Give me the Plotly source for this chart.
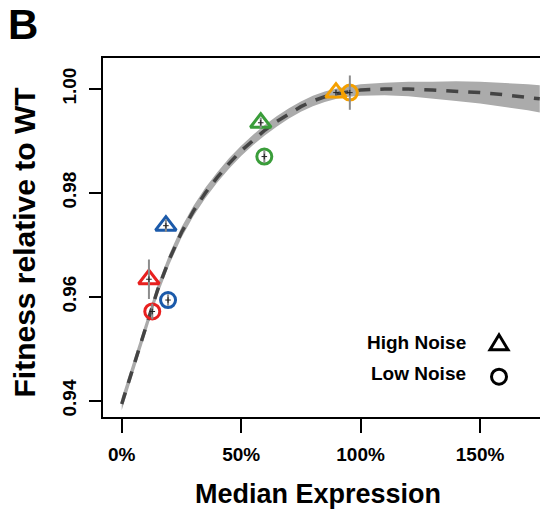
import plotly.graph_objects as go

# ---------------- data ----------------
curve_x = [0, 0.05, 0.1, 0.15, 0.2, 0.25, 0.3, 0.35, 0.4, 0.45, 0.5, 0.55, 0.6, 0.65,
           0.7, 0.75, 0.8, 0.85, 0.9, 0.95, 1.0, 1.1, 1.2, 1.3, 1.4, 1.5, 1.6, 1.7, 1.75]
curve_y = [0.9394, 0.9468, 0.9540, 0.9613, 0.9673, 0.9724, 0.9765, 0.9800, 0.9830, 0.9857,
           0.9881, 0.9902, 0.9921, 0.9938, 0.9953, 0.9966, 0.9977, 0.9985, 0.9991, 0.9995,
           0.9998, 1.0000, 1.0000, 0.9998, 0.9996, 0.9993, 0.9989, 0.9984, 0.9981]
band_half = [0.0012, 0.0011, 0.0011, 0.0010, 0.0010, 0.0010, 0.0010, 0.0010, 0.0010, 0.0010,
             0.0010, 0.0010, 0.0010, 0.0010, 0.0010, 0.0010, 0.0010, 0.0010, 0.0010, 0.0010,
             0.0011, 0.0012, 0.0014, 0.0016, 0.0019, 0.0021, 0.0023, 0.0025, 0.0026]

point_colors = ["#E8201F", "#1B5AAA", "#3A9D3A", "#F5A000"]
high_x = [0.114, 0.185, 0.582, 0.897]
high_y = [0.9634, 0.9737, 0.9935, 0.9993]
high_err = [0.0038, 0.0012, 0.0010, 0.0006]
low_x = [0.128, 0.194, 0.597, 0.955]
low_y = [0.9572, 0.9594, 0.9870, 0.9993]
low_err = [0.0015, 0.0011, 0.0012, 0.0033]

x_ticks = [0, 0.5, 1.0, 1.5]
x_ticklabels = ["0%", "50%", "100%", "150%"]
y_ticks = [0.94, 0.96, 0.98, 1.00]
y_ticklabels = ["0.94", "0.96", "0.98", "1.00"]

FONT = "Liberation Sans"

# ---------------- figure ----------------
fig = go.Figure()

band_upper = [y + h for y, h in zip(curve_y, band_half)]
band_lower = [y - h for y, h in zip(curve_y, band_half)]
fig.add_trace(go.Scatter(
    x=curve_x + curve_x[::-1], y=band_upper + band_lower[::-1],
    fill="toself", fillcolor="#ABABAB", line=dict(width=0), mode="lines",
    hoverinfo="skip"))
fig.add_trace(go.Scatter(
    x=curve_x, y=curve_y, mode="lines",
    line=dict(color="#444444", width=3.5, dash="12px,10px")))

fig.add_trace(go.Scatter(
    x=high_x, y=high_y, mode="markers",
    marker=dict(symbol="triangle-up-open", size=18, color=point_colors,
                line=dict(width=3, color=point_colors))))
fig.add_trace(go.Scatter(
    x=low_x, y=low_y, mode="markers",
    marker=dict(symbol="circle-open", size=15, color=point_colors,
                line=dict(width=3, color=point_colors))))

# error bars and small centre crosses
fig.add_trace(go.Scatter(
    x=high_x + low_x, y=high_y + low_y, mode="markers",
    marker=dict(symbol="cross-thin", size=4, color="#222222",
                line=dict(width=1, color="#222222")),
    error_y=dict(type="data", array=high_err + low_err, visible=True,
                 color="#8C8C8C", thickness=2, width=0)))

fig.update_layout(
    width=540, height=513,
    margin=dict(l=103, r=0, t=58, b=96),
    plot_bgcolor="white", paper_bgcolor="white",
    showlegend=False,
    font=dict(family=FONT, color="black"),
)
fig.update_xaxes(
    range=[-0.0783, 1.751], tickvals=x_ticks, ticktext=x_ticklabels,
    showline=True, linecolor="black", linewidth=2, mirror=True,
    ticks="outside", ticklen=14, tickwidth=2, tickcolor="black",
    ticklabelstandoff=5,
    tickfont=dict(family=FONT, size=19, color="black", weight="bold"),
    showgrid=False, zeroline=False)
fig.update_yaxes(
    range=[0.9369, 1.00596], tickvals=y_ticks, ticktext=y_ticklabels,
    showline=True, linecolor="black", linewidth=2, mirror=False,
    ticks="outside", ticklen=12, tickwidth=2, tickcolor="black", tickangle=-90,
    ticklabelstandoff=5,
    tickfont=dict(family=FONT, size=19, color="black", weight="bold"),
    showgrid=False, zeroline=False)

annotations = [
    dict(text="<b>Median Expression</b>", x=0.492, y=-0.2145, xref="paper", yref="paper",
         xanchor="center", yanchor="middle", showarrow=False,
         font=dict(family=FONT, size=27, color="black")),
    dict(text="<b>Fitness relative to WT</b>", x=-0.1785, y=0.486, xref="paper", yref="paper",
         xanchor="center", yanchor="middle", showarrow=False, textangle=-90,
         font=dict(family=FONT, size=30, color="black")),
    dict(text="<b>B</b>", x=-0.1842, y=1.0947, xref="paper", yref="paper",
         xanchor="center", yanchor="middle", showarrow=False,
         font=dict(family=FONT, size=42, color="black")),
    dict(text="<b>High Noise</b>", x=0.8352, y=0.207, xref="paper", yref="paper",
         xanchor="right", yanchor="middle", showarrow=False,
         font=dict(family=FONT, size=19, color="black")),
    dict(text="<b>Low Noise</b>", x=0.8352, y=0.1217, xref="paper", yref="paper",
         xanchor="right", yanchor="middle", showarrow=False,
         font=dict(family=FONT, size=19, color="black")),
]
fig.update_layout(annotations=annotations)

shapes = [
    dict(type="path", xref="paper", yref="paper", xsizemode="pixel", ysizemode="pixel",
         xanchor=0.9062, yanchor=0.2053, path="M -9,-6.5 L 9,-6.5 L 0,8.5 Z",
         line=dict(color="black", width=3)),
    dict(type="circle", xref="paper", yref="paper", xsizemode="pixel", ysizemode="pixel",
         xanchor=0.9062, yanchor=0.1123, x0=-7.5, x1=7.5, y0=-7.5, y1=7.5,
         line=dict(color="black", width=3)),
]
fig.update_layout(shapes=shapes)

fig.write_html("out.html")
